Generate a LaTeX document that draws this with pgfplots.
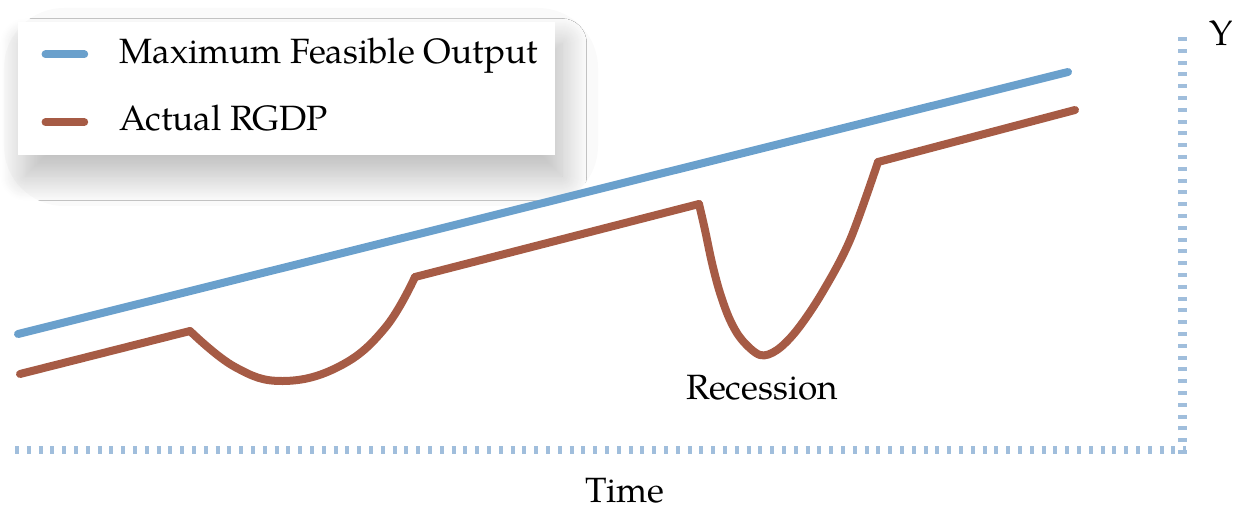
\documentclass[border=0pt]{standalone}
\usepackage{fontspec}
\setmainfont{texgyrepagella-regular}[Extension=.otf]
\usepackage{pgfplots}
\pgfplotsset{compat=1.18}
\usetikzlibrary{shadows.blur}
\definecolor{feasible}{RGB}{106,160,204}
\definecolor{actual}{RGB}{166,91,69}
\definecolor{axdot}{RGB}{160,190,220}
\begin{document}
\begin{tikzpicture}
\begin{axis}[
  scale only axis, width=123.6mm, height=50.8mm,
  xmin=0, xmax=1236, ymin=0, ymax=508, y dir=reverse,
  hide axis, clip=false,
  legend style={at={(axis cs:18,22)}, anchor=north west, draw=none, fill=none,
    inner xsep=6.5pt, inner ysep=4.5pt, row sep=10.3pt, column sep=0pt,
    nodes={inner sep=0pt, text height=7pt, text depth=2pt, font=\fontsize{10}{12}\selectfont}},
  legend cell align=left,
  legend image code/.code={\draw[#1, line cap=round] (1pt,0pt) -- (12pt,0pt);
    \path[draw=none] (0pt,0pt) -- (22pt,0pt);},
]
% faint glow and shadowed box behind the legend
\fill[black!2, rounded corners=6mm] (axis cs:4,8) rectangle (axis cs:598,206);
\fill[white, blur shadow={shadow xshift=2pt, shadow yshift=-6pt, shadow blur radius=7pt,
    shadow blur steps=24, shadow opacity=24}]
  (axis cs:18,22) rectangle (axis cs:555,155);

% dotted axes
\addplot[axdot, line width=0.8mm, dash pattern=on 0.4mm off 0.78mm, forget plot]
  coordinates {(15,450) (1186,450)};
\addplot[axdot, line width=0.9mm, dash pattern=on 0.4mm off 0.78mm, forget plot]
  coordinates {(1182,454) (1182,31)};

\addplot[feasible, line width=0.8mm, line cap=round] coordinates {(18,334) (1068,72)};
\addlegendentry{Maximum Feasible Output}

\addplot[actual, line width=0.8mm, line cap=round, line join=round] coordinates {(20,374) (190,331)};
\addlegendentry{Actual RGDP}
\addplot[actual, line width=0.8mm, line cap=round, smooth, tension=0.7, forget plot]
  coordinates {(190,331) (235,367) (283,381) (340,366) (385,328) (415,277)};
\addplot[actual, line width=0.8mm, line cap=round, forget plot]
  coordinates {(415,277) (699,204)};
\addplot[actual, line width=0.8mm, line cap=round, smooth, tension=0.55, forget plot]
  coordinates {(699,204) (705,230) (712,263) (720,293) (730,320) (742,340) (760,355)
    (777,350) (797,330) (822,293) (850,240) (878,162)};
\addplot[actual, line width=0.8mm, line cap=round, forget plot]
  coordinates {(878,162) (1075,110)};

\node[inner sep=0pt, font=\fontsize{10}{12}\selectfont] at (axis cs:762,388) {Recession};
\node[inner sep=0pt, font=\fontsize{10}{12}\selectfont] at (axis cs:625,491) {Time};
\node[inner sep=0pt, font=\fontsize{10}{12}\selectfont] at (axis cs:1221,33) {Y};
\end{axis}
\pgfresetboundingbox
\path (current axis.south west) rectangle (current axis.north east);
\end{tikzpicture}
\end{document}
